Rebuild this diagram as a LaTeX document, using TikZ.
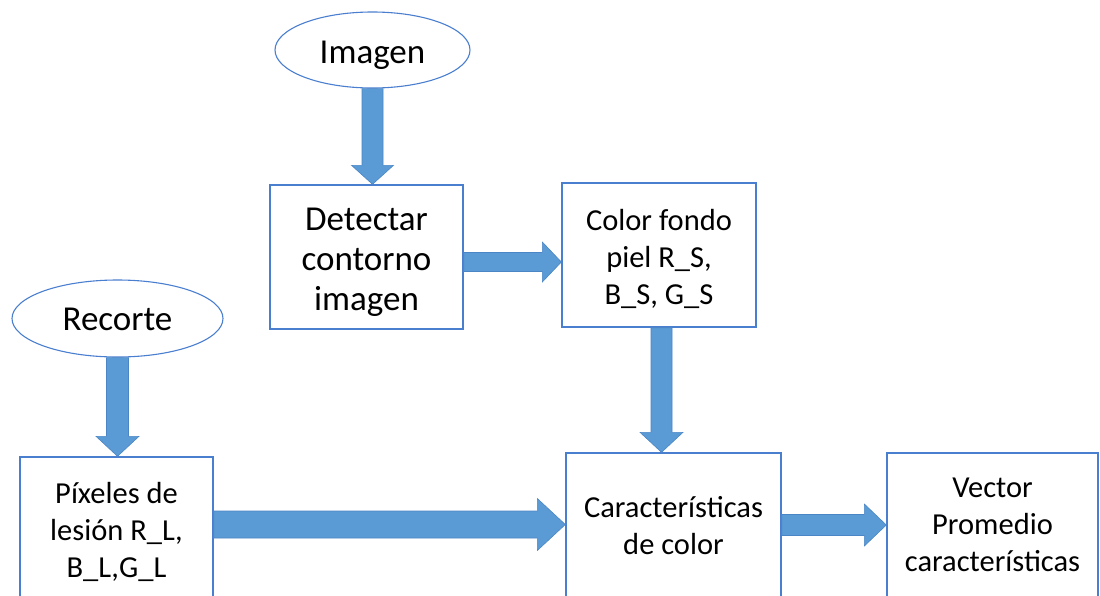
\documentclass[tikz,border=0pt]{standalone}
\usepackage{fontspec}
\setmainfont{Carlito}
\usetikzlibrary{calc,shapes.geometric}

\definecolor{arrowfill}{HTML}{5B9BD5}
\definecolor{arrowedge}{HTML}{4A86C5}
\definecolor{boxline}{HTML}{4A7FD0}

\tikzset{
  stepbox/.style={draw=boxline, line width=1.4pt, rectangle, inner sep=0pt},
  startshape/.style={draw=boxline, line width=1.1pt, ellipse, inner sep=0pt},
  boxtext/.style={align=center, inner sep=0pt, text=black,
                  font=\fontsize{30.5}{37}\selectfont},
  oneline/.style={anchor=base, inner sep=0pt, text=black,
                  font=\fontsize{35}{40}\selectfont},
  blockarrow/.style={fill=arrowfill, draw=arrowedge, line width=0.6pt,
                     line join=miter}
}

% Downward block arrow: #1 start point, #2 target node,
% #3 half shaft width, #4 half head width, #5 head length
\newcommand\vblockarrow[5]{%
  \coordinate (va) at (#1);
  \coordinate (vb) at (va |- #2.north);
  \filldraw[blockarrow] ($(va)+(-#3,0)$) -- ($(vb)+(-#3,-#5)$)
    -- ($(vb)+(-#4,-#5)$) -- (vb) -- ($(vb)+(#4,-#5)$)
    -- ($(vb)+(#3,-#5)$) -- ($(va)+(#3,0)$) -- cycle;}

% Rightward block arrow: same arguments
\newcommand\hblockarrow[5]{%
  \coordinate (ha) at (#1);
  \coordinate (hb) at (#2.west |- ha);
  \filldraw[blockarrow] ($(ha)+(0,-#3)$) -- ($(hb)+(-#5,-#3)$)
    -- ($(hb)+(-#5,-#4)$) -- (hb) -- ($(hb)+(-#5,#4)$)
    -- ($(hb)+(-#5,#3)$) -- ($(ha)+(0,#3)$) -- cycle;}

\begin{document}
\begin{tikzpicture}[x=1pt,y=-1pt]
\useasboundingbox (0,0) rectangle (1100,595);
\clip (0,0) rectangle (1100,595);
\fill[white] (0,0) rectangle (1100,595);

% start shapes
\node[startshape, minimum width=195pt, minimum height=76pt] (imagen) at (372.5,50) {};
\node[startshape, minimum width=211pt, minimum height=77pt] (recorte) at (117.5,318.5) {};

% process boxes (the lower row runs past the bottom edge)
\node[stepbox, minimum width=193pt, minimum height=144pt] (det) at (366.5,257) {};
\node[stepbox, minimum width=194pt, minimum height=144pt] (col) at (659,255) {};
\node[stepbox, minimum width=193pt, minimum height=163pt] (pix) at (116.5,538.5) {};
\node[stepbox, minimum width=215pt, minimum height=167pt] (car) at (673.5,536.5) {};
\node[stepbox, minimum width=211pt, minimum height=167pt] (vec) at (992.5,536.5) {};

% texts
\node[oneline] (imagentxt) at (372.5,63) {Imagen};
\node[oneline] (recortetxt) at (117.5,330) {Recorte};
\node[boxtext, font=\fontsize{35}{40}\selectfont] (dettxt) at (366.5,262)
  {\strut Detectar\\contorno\\imagen\strut};
\node[boxtext] (coltxt) at (659,259.6)
  {\strut Color fondo\\piel R\_S,\\B\_S, G\_S\strut};
\node[boxtext] (pixtxt) at (116.5,532.6)
  {\strut Píxeles de\\lesión R\_L,\\B\_L,G\_L\strut};
\node[boxtext] (cartxt) at (673.5,528.1)
  {\strut Características\\de color\strut};
\node[boxtext] (vectxt) at (992.5,526.6)
  {\strut Vector\\Promedio\\características\strut};

% connectors
\vblockarrow{imagen.south}{det}{10.5}{21}{19}
\vblockarrow{recorte.south}{pix}{11}{21.5}{20}
\coordinate (colout) at ([xshift=2.5pt]col.south);
\vblockarrow{colout}{car}{10.5}{21.5}{20}

\coordinate (detout) at ([yshift=-5pt]det.east);
\hblockarrow{detout}{col}{9.5}{20}{19}
\coordinate (pixout) at ([yshift=14pt]pix.east);
\hblockarrow{pixout}{car}{13.5}{26}{28}
\coordinate (carout) at ([yshift=11.5pt]car.east);
\hblockarrow{carout}{vec}{10.5}{21}{22}
\end{tikzpicture}
\end{document}
